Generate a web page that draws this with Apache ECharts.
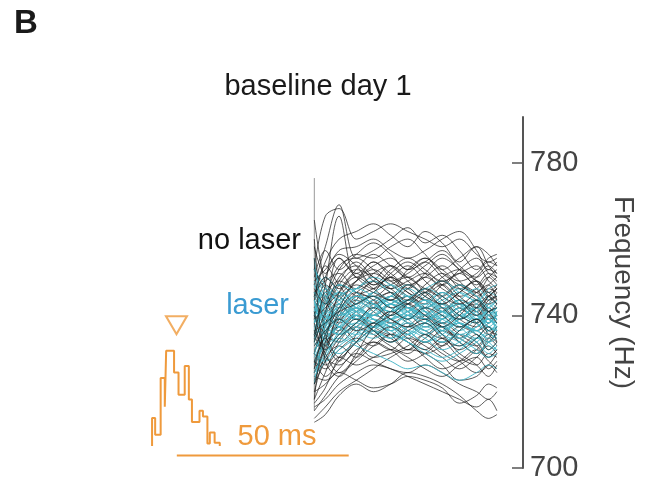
<!DOCTYPE html>
<html>
<head>
<meta charset="utf-8">
<script src="https://cdn.jsdelivr.net/npm/echarts@6/dist/echarts.min.js"></script>
<style>
  html, body { margin: 0; padding: 0; background: #fff; }
  #chart { width: 645px; height: 486px; }
</style>
</head>
<body>
<div id="chart"></div>
<script>
// Sample times of each pitch contour (ms)
const timesMs = [47.8, 51, 55, 60, 65, 70, 75, 80, 85, 90, 95, 98.5, 100.9];

// Pitch contours without laser (Hz), one row per syllable rendition
const noLaser = [
  [752, 766, 768, 760, 762, 764, 762, 760, 758, 760, 756, 754, 755],
  [748, 758, 769, 755, 757, 760, 763, 759, 761, 757, 752, 755, 756],
  [745, 754, 760, 762, 764, 761, 758, 762, 759, 754, 758, 756, 753],
  [740, 750, 757, 758, 760, 757, 755, 757, 760, 762, 757, 752, 754],
  [738, 744, 752, 756, 755, 758, 760, 756, 752, 755, 758, 753, 750],
  [735, 748, 766, 750, 753, 755, 752, 754, 757, 753, 750, 752, 751],
  [730, 740, 748, 752, 750, 747, 749, 751, 748, 745, 747, 750, 748],
  [742, 746, 749, 747, 751, 753, 750, 747, 745, 748, 746, 744, 745],
  [728, 735, 742, 748, 746, 744, 748, 745, 743, 746, 749, 745, 743],
  [745, 741, 744, 749, 752, 749, 746, 743, 746, 742, 740, 743, 746],
  [725, 732, 740, 745, 747, 750, 746, 744, 741, 743, 741, 739, 740],
  [736, 738, 741, 743, 745, 742, 744, 747, 744, 740, 738, 741, 742],
  [720, 730, 738, 742, 740, 743, 745, 741, 738, 741, 743, 740, 738],
  [748, 744, 738, 741, 744, 746, 741, 739, 742, 738, 736, 738, 740],
  [732, 736, 739, 736, 738, 741, 739, 742, 740, 737, 739, 736, 735],
  [726, 733, 736, 740, 737, 735, 738, 736, 734, 737, 735, 733, 736],
  [740, 735, 733, 737, 740, 738, 735, 733, 736, 733, 730, 734, 737],
  [722, 728, 734, 738, 742, 739, 737, 739, 735, 731, 734, 737, 733],
  [730, 727, 731, 734, 732, 735, 733, 730, 732, 735, 733, 729, 731],
  [718, 725, 733, 737, 735, 732, 730, 733, 730, 728, 731, 734, 732],
  [744, 750, 747, 751, 748, 752, 755, 752, 749, 751, 753, 749, 747],
  [752, 747, 745, 749, 754, 751, 748, 750, 753, 749, 745, 748, 750],
  [738, 745, 753, 755, 752, 749, 751, 754, 750, 747, 750, 753, 751],
  [733, 741, 750, 753, 749, 746, 743, 746, 749, 745, 742, 745, 747],
  [727, 737, 745, 749, 751, 748, 745, 742, 745, 748, 745, 741, 742],
  [720, 722, 726, 730, 728, 726, 725, 727, 725, 722, 720, 718, 720],
  [716, 718, 722, 725, 727, 726, 724, 722, 720, 718, 716, 718, 715],
  [724, 723, 725, 723, 721, 722, 724, 723, 721, 717, 719, 722, 721],
  [713, 716, 720, 723, 726, 729, 731, 730, 727, 723, 724, 727, 725],
  [728, 726, 729, 727, 729, 731, 729, 726, 724, 727, 729, 726, 728],
  [735, 729, 727, 731, 733, 731, 728, 730, 733, 729, 727, 730, 729],
  [731, 734, 737, 733, 729, 730, 732, 735, 731, 728, 725, 727, 730],
  [738, 731, 735, 739, 736, 733, 736, 738, 734, 732, 735, 731, 733],
  [725, 731, 739, 744, 741, 738, 740, 737, 739, 742, 738, 735, 737],
  [742, 738, 742, 745, 743, 739, 737, 740, 743, 739, 737, 740, 739],
  [749, 752, 756, 753, 748, 750, 753, 749, 745, 743, 746, 748, 744],
  [734, 743, 748, 745, 743, 745, 742, 739, 741, 744, 742, 738, 741],
  [717, 721, 729, 733, 736, 734, 731, 734, 737, 733, 730, 733, 735],
  [739, 742, 746, 750, 747, 744, 747, 750, 747, 744, 740, 744, 745],
  [746, 749, 751, 746, 745, 748, 750, 746, 743, 746, 749, 746, 744],
  [760, 735, 728, 735, 741, 744, 742, 745, 748, 744, 741, 745, 747],
  [755, 728, 724, 730, 737, 740, 743, 740, 737, 740, 744, 741, 738],
  [718, 740, 755, 750, 747, 751, 754, 751, 748, 752, 755, 751, 749],
  [765, 748, 739, 744, 749, 747, 752, 755, 751, 748, 746, 750, 752],
  [722, 733, 746, 752, 756, 753, 750, 753, 756, 752, 749, 746, 748],
  [745, 753, 748, 743, 746, 750, 747, 744, 748, 751, 747, 743, 744],
  [728, 724, 728, 733, 737, 741, 738, 735, 738, 735, 732, 729, 731],
  [741, 732, 741, 746, 744, 740, 743, 746, 742, 739, 742, 745, 743],
  [715, 719, 724, 728, 732, 735, 733, 729, 726, 728, 731, 728, 726],
  [750, 757, 752, 756, 759, 756, 752, 755, 752, 749, 751, 754, 753],
  [736, 730, 725, 729, 734, 737, 734, 731, 734, 730, 727, 724, 727],
  [733, 745, 742, 746, 749, 753, 749, 746, 750, 752, 749, 745, 747],
  [723, 729, 732, 729, 733, 731, 734, 732, 729, 726, 729, 732, 730],
  [747, 743, 749, 754, 750, 747, 744, 748, 751, 747, 744, 741, 743],
  [739, 748, 745, 741, 737, 741, 745, 742, 738, 741, 744, 747, 746],
  [730, 738, 743, 739, 743, 746, 743, 740, 737, 734, 738, 742, 740],
  [712, 714, 719, 722, 720, 722, 725, 724, 722, 719, 715, 713, 714],
  [744, 739, 736, 740, 736, 733, 737, 740, 737, 734, 732, 735, 734],
  [758, 751, 755, 751, 754, 750, 747, 751, 755, 752, 748, 751, 750],
  [726, 734, 729, 733, 738, 735, 731, 735, 732, 736, 739, 735, 733]
];

// Pitch contours with laser (Hz)
const withLaser = [
  [748, 742, 740, 743, 745, 743, 741, 744, 742, 739, 741, 743, 740],
  [735, 738, 742, 745, 743, 740, 742, 739, 737, 740, 738, 736, 738],
  [742, 737, 735, 738, 741, 744, 742, 739, 741, 743, 740, 738, 741],
  [728, 733, 738, 741, 739, 737, 735, 738, 740, 737, 734, 736, 737],
  [752, 745, 741, 739, 742, 745, 747, 744, 741, 739, 742, 745, 743],
  [738, 741, 745, 747, 745, 742, 739, 736, 739, 742, 744, 741, 739],
  [725, 730, 735, 738, 736, 734, 736, 734, 731, 733, 736, 733, 731],
  [745, 740, 737, 735, 737, 740, 738, 735, 733, 735, 733, 730, 732],
  [732, 736, 740, 743, 746, 748, 745, 742, 744, 746, 743, 740, 742],
  [740, 744, 748, 746, 743, 741, 744, 747, 745, 741, 739, 742, 744],
  [730, 728, 731, 734, 737, 735, 733, 730, 728, 730, 733, 735, 734],
  [737, 735, 737, 740, 738, 736, 739, 741, 738, 735, 737, 739, 736],
  [750, 747, 744, 747, 750, 748, 745, 747, 749, 746, 744, 747, 748],
  [727, 732, 734, 732, 730, 728, 726, 727, 725, 723, 725, 727, 726],
  [743, 739, 743, 747, 749, 746, 743, 740, 743, 747, 745, 742, 740],
  [734, 739, 743, 741, 738, 739, 741, 743, 740, 736, 739, 741, 739],
  [739, 736, 733, 736, 739, 737, 734, 737, 735, 732, 734, 737, 735],
  [746, 743, 746, 744, 742, 745, 748, 745, 742, 744, 747, 744, 742],
  [731, 735, 739, 737, 735, 738, 736, 733, 736, 738, 735, 731, 733],
  [741, 746, 744, 741, 744, 742, 739, 742, 746, 743, 740, 738, 741],
  [729, 734, 737, 742, 740, 743, 740, 738, 736, 739, 742, 739, 737],
  [744, 738, 741, 745, 742, 739, 741, 744, 741, 738, 736, 739, 738],
  [736, 741, 739, 736, 734, 737, 740, 742, 739, 737, 739, 737, 736],
  [748, 744, 740, 742, 746, 744, 742, 740, 738, 741, 744, 740, 739],
  [733, 731, 734, 738, 740, 738, 735, 738, 741, 738, 736, 734, 735],
  [755, 738, 735, 740, 743, 741, 744, 741, 739, 742, 739, 737, 739],
  [722, 735, 741, 739, 742, 745, 742, 740, 743, 740, 738, 741, 740],
  [746, 741, 737, 733, 736, 739, 736, 733, 735, 738, 735, 733, 734],
  [738, 747, 743, 740, 737, 741, 744, 741, 737, 739, 742, 739, 738],
  [730, 737, 742, 739, 736, 733, 735, 738, 735, 733, 730, 733, 735],
  [752, 748, 745, 742, 740, 743, 745, 742, 745, 748, 745, 742, 744],
  [726, 729, 736, 740, 737, 739, 742, 739, 736, 734, 737, 739, 737],
  [744, 736, 739, 742, 739, 736, 738, 736, 733, 736, 740, 737, 736],
  [735, 743, 746, 743, 740, 743, 740, 743, 746, 743, 739, 741, 742],
  [741, 733, 730, 733, 736, 734, 737, 735, 737, 734, 731, 729, 730],
  [749, 745, 748, 746, 743, 741, 743, 746, 743, 740, 743, 746, 745],
  [724, 728, 732, 735, 738, 736, 733, 731, 729, 731, 734, 732, 731],
  [737, 740, 737, 741, 745, 742, 739, 742, 739, 743, 741, 738, 740],
  [745, 750, 746, 742, 739, 737, 740, 739, 741, 738, 736, 740, 742],
  [733, 738, 735, 737, 740, 743, 741, 737, 740, 744, 741, 736, 737]
];

// Contour onset marker: frequency span of the start line (Hz)
const onsetSpan = [776, 715];

// Laser timing histogram: bin edges (ms) and heights
const histEdges = [0.6, 1.5, 3.1, 4.3, 4.7, 7.0, 8.3, 10.1, 11.3, 12.2, 14.4, 15.4, 16.7, 17.4, 18.8, 20.3];
const histHeights = [3.5, 1.4, 8.5, 4.9, 11.9, 9.2, 6.4, 10.0, 5.8, 3.0, 4.4, 3.7, 0.3, 1.7, 0.4];
const triggerMs = 7.7;
const triggerLevel = 15.1;

// Time scale bar (ms)
const scaleBarMs = [7.8, 57.8];
const scaleBarLevel = -1.2;

// Frequency axis ticks (Hz)
const freqTicks = [700, 740, 780];

const ORANGE = '#ef9a3c';
const BLACK = '#1c1c1c';
const CYAN = '#44b4c6';
const FONT = 'Liberation Sans';

const chart = echarts.init(document.getElementById('chart'), null, { renderer: 'canvas' });

// Odd-numbered renditions are drawn over the laser contours so the two sets interleave
function contourSeries(rows, color, width, opacity, zFor) {
  return rows.map((row, k) => ({
    type: 'line',
    xAxisIndex: 0,
    yAxisIndex: 0,
    data: row.map((f, i) => [timesMs[i], f]),
    showSymbol: false,
    smooth: 0.35,
    silent: true,
    z: zFor(k),
    lineStyle: { color: color, width: width, opacity: opacity }
  }));
}

// Build the step outline of the histogram from its edges and heights
const histOutline = [[histEdges[0], 0]];
histHeights.forEach((h, i) => {
  histOutline.push([histEdges[i], h]);
  histOutline.push([histEdges[i + 1], h]);
});
histOutline.push([histEdges[histEdges.length - 1], 0]);

const series = [
  {
    type: 'line',
    xAxisIndex: 0, yAxisIndex: 0,
    data: onsetSpan.map(f => [timesMs[0], f]),
    showSymbol: false, silent: true, z: 1,
    lineStyle: { color: '#9a9a9a', width: 1 }
  },
  ...contourSeries(noLaser, BLACK, 0.8, 0.9, k => (k % 3 === 2 ? 4 : 2)),
  ...contourSeries(withLaser, CYAN, 1, 0.95, () => 3),
  {
    type: 'line',
    xAxisIndex: 1, yAxisIndex: 1,
    data: histOutline,
    showSymbol: false, silent: true,
    lineStyle: { color: ORANGE, width: 2 }
  },
  {
    type: 'scatter',
    xAxisIndex: 1, yAxisIndex: 1,
    data: [[triggerMs, triggerLevel]],
    symbol: 'triangle',
    symbolRotate: 180,
    symbolSize: [21, 18],
    silent: true,
    itemStyle: { color: '#fff', borderColor: ORANGE, borderWidth: 2 }
  },
  {
    type: 'line',
    xAxisIndex: 1, yAxisIndex: 1,
    data: scaleBarMs.map(t => [t, scaleBarLevel]),
    showSymbol: false, silent: true,
    lineStyle: { color: ORANGE, width: 2 }
  }
];

const option = {
  animation: false,
  backgroundColor: '#fff',
  grid: [
    { left: 150, right: 122, top: 117, bottom: 18 },
    { left: 150, right: 122, top: 318, bottom: 24 }
  ],
  xAxis: [
    { type: 'value', gridIndex: 0, min: 0, max: 108.5, show: false },
    { type: 'value', gridIndex: 1, min: 0, max: 108.5, show: false }
  ],
  yAxis: [
    {
      type: 'value', gridIndex: 0, position: 'right',
      min: 700, max: 792,
      splitLine: { show: false },
      axisLine: { show: true, onZero: false, lineStyle: { color: '#555', width: 2 } },
      axisTick: { show: true, inside: true, length: 11, customValues: freqTicks, lineStyle: { color: '#555', width: 1.5 } },
      axisLabel: { customValues: freqTicks, margin: 7, color: '#444', fontSize: 29, fontFamily: FONT },
      name: 'Frequency (Hz)',
      nameLocation: 'middle',
      nameRotate: -90,
      nameGap: 86,
      nameTextStyle: { color: '#444', fontSize: 28, fontFamily: FONT }
    },
    { type: 'value', gridIndex: 1, min: -2, max: 16, show: false }
  ],
  graphic: [
    { type: 'text', left: 14, top: 7, style: { text: 'B', fontSize: 33, fontWeight: 'bold', fill: '#1a1a1a', fontFamily: FONT } },
    { type: 'text', x: 318, y: 87, style: { text: 'baseline day 1', fontSize: 29, fill: '#1a1a1a', fontFamily: FONT, align: 'center', verticalAlign: 'middle' } },
    { type: 'text', x: 301, y: 241, style: { text: 'no laser', fontSize: 29, fill: '#111', fontFamily: FONT, align: 'right', verticalAlign: 'middle' } },
    { type: 'text', x: 289, y: 306, style: { text: 'laser', fontSize: 29, fill: '#3a9bd2', fontFamily: FONT, align: 'right', verticalAlign: 'middle' } },
    { type: 'text', x: 277, y: 437, style: { text: '50 ms', fontSize: 29, fill: ORANGE, fontFamily: FONT, align: 'center', verticalAlign: 'middle' } }
  ],
  series: series
};

chart.setOption(option);
</script>
</body>
</html>
